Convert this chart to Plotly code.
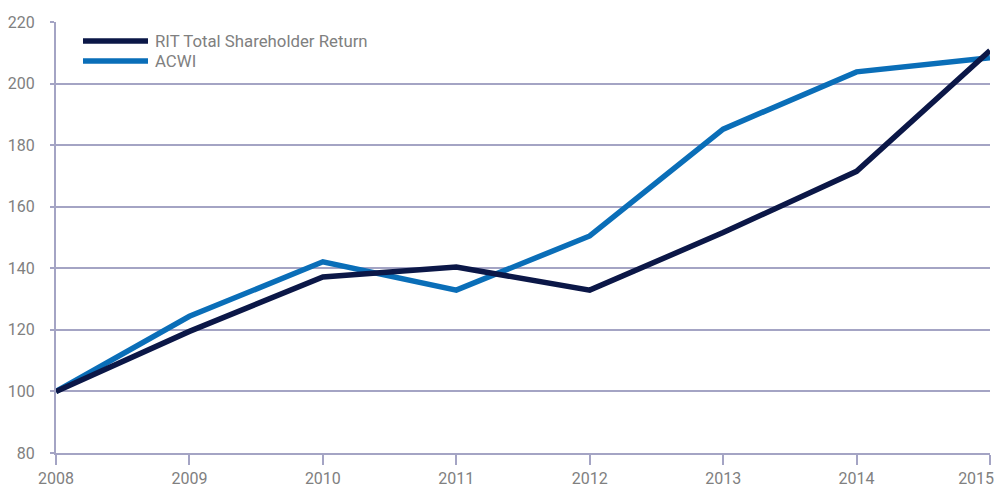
import plotly.graph_objects as go

years = [2008, 2009, 2010, 2011, 2012, 2013, 2014, 2015]
rit_values = [100, 119.5, 137.2, 140.4, 132.9, 151.6, 171.5, 210.7]
acwi_values = [100, 124.4, 142.1, 132.9, 150.5, 185.2, 203.8, 208.4]
series_names = ["RIT Total Shareholder Return", "ACWI"]
y_ticks = [80, 100, 120, 140, 160, 180, 200, 220]
x_labels = [str(y) for y in years]
# last label is nudged left (as in the reference) so it stays inside the window
x_labels[-1] = x_labels[-1] + "\u00a0" * 7

RIT_COLOR = "#0b1747"
ACWI_COLOR = "#0a6eb8"
GRID = "#a4a4c4"
TEXT = "#808080"
FONT = "Roboto"

fig = go.Figure()
fig.add_trace(go.Scatter(x=years, y=acwi_values, mode="lines", name=series_names[1],
                         line=dict(color=ACWI_COLOR, width=5.5), showlegend=False))
fig.add_trace(go.Scatter(x=years, y=rit_values, mode="lines", name=series_names[0],
                         line=dict(color=RIT_COLOR, width=5.5), showlegend=False))

# page body has an 8px margin, so the figure is sized to fit the window
OFF = 8
W, H = 1003 - OFF, 490 - OFF
ml, mr, mt, mb = 48, 13, 14, 37
pw, ph = W - ml - mr, H - mt - mb

def px(x):  # window pixel -> paper
    return (x - OFF - ml) / pw

def py(y):
    return 1 - (y - OFF - mt) / ph

for i, (name, col) in enumerate(zip(series_names, [RIT_COLOR, ACWI_COLOR])):
    yy = 41 + i * 20
    fig.add_shape(type="line", xref="paper", yref="paper",
                  x0=px(83), x1=px(148), y0=py(yy), y1=py(yy),
                  line=dict(color=col, width=5.5))
    fig.add_annotation(x=px(153), y=py(yy), xref="paper", yref="paper",
                       text=name, showarrow=False, xanchor="left", yanchor="middle",
                       font=dict(family=FONT, size=16.8, color=TEXT))

fig.update_layout(
    width=W, height=H,
    margin=dict(l=ml, r=mr, t=mt, b=mb, autoexpand=False),
    paper_bgcolor="white", plot_bgcolor="white",
    font=dict(family=FONT, size=16, color=TEXT),
    showlegend=False,
    xaxis=dict(range=[2008, 2015], tickvals=years, ticktext=x_labels,
               automargin=False, ticklabeloverflow="allow",
               showgrid=False, zeroline=False, showline=True, linecolor=GRID, linewidth=2,
               ticks="outside", ticklen=10, tickwidth=2, tickcolor=GRID,
               tickfont=dict(family=FONT, size=16, color=TEXT)),
    yaxis=dict(range=[80, 220], tickvals=y_ticks, automargin=False,
               showgrid=True, gridcolor=GRID, gridwidth=1.5, zeroline=False,
               showline=True, linecolor=GRID, linewidth=2,
               ticks="outside", ticklen=4, tickwidth=2, tickcolor=GRID,
               ticklabelstandoff=12,
               tickfont=dict(family=FONT, size=16, color=TEXT)),
)

fig.write_html("out.html")
